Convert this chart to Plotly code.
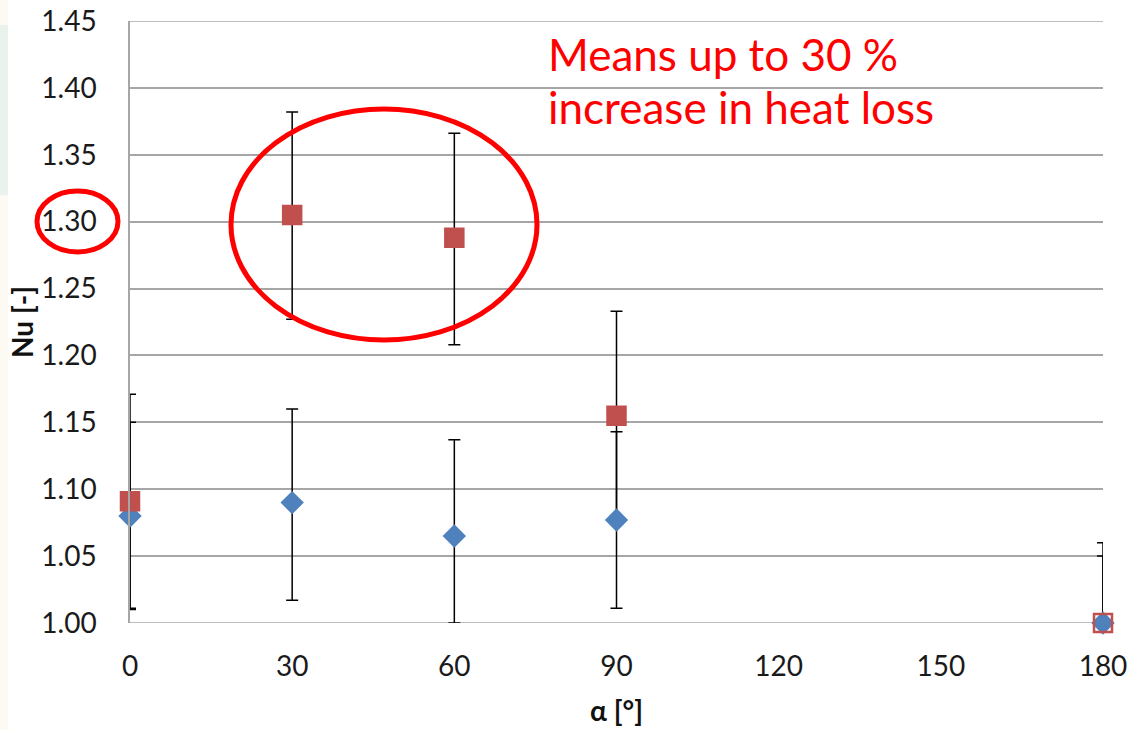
import plotly.graph_objects as go

# ---- data ----
angles = [0, 30, 60, 90, 180]
nu_blue = [1.080, 1.090, 1.065, 1.077, 1.000]
blue_err_plus = [0.070, 0.070, 0.072, 0.066, 0.050]
blue_err_minus = [0.070, 0.073, 0.065, 0.066, 0.000]

nu_red = [1.091, 1.305, 1.288, 1.155, 1.000]
red_err_plus = [0.080, 0.077, 0.078, 0.078, 0.060]
red_err_minus = [0.080, 0.078, 0.080, 0.078, 0.000]

x_ticks = [0, 30, 60, 90, 120, 150, 180]
y_ticks = [1.00, 1.05, 1.10, 1.15, 1.20, 1.25, 1.30, 1.35, 1.40, 1.45]

BLUE = "#4F81BD"
RED = "#C0504D"
FONT = "Lato, 'Open Sans', sans-serif"

# ---- layout geometry (pixels) ----
W, H = 1128, 730
ML, MR, MT, MB = 130, 25, 21, 107
PW, PH = W - ML - MR, H - MT - MB


def px(x):
    """screen pixel x -> paper"""
    return (x - ML) / PW


def py(y):
    """screen pixel y -> paper"""
    return 1 - (y - MT) / PH


ERR = dict(type="data", color="black", thickness=1.5, width=6)

fig = go.Figure()

# red series error bars (beneath the markers)
fig.add_trace(go.Scatter(
    x=angles, y=nu_red, mode="markers", name="red error",
    marker=dict(symbol="square", size=1, opacity=0),
    error_y=dict(array=red_err_plus, arrayminus=red_err_minus, **ERR),
    cliponaxis=False, showlegend=False, hoverinfo="skip",
))

# blue series
fig.add_trace(go.Scatter(
    x=angles, y=nu_blue, mode="markers", name="blue",
    marker=dict(symbol="diamond", size=18, color=BLUE),
    error_y=dict(array=blue_err_plus, arrayminus=blue_err_minus, **ERR),
    cliponaxis=False, showlegend=False,
))

# red series markers
red_fill = [RED, RED, RED, RED, "rgba(0,0,0,0)"]
fig.add_trace(go.Scatter(
    x=angles, y=nu_red, mode="markers", name="red",
    marker=dict(symbol="square", size=18, color=red_fill,
                line=dict(color=RED, width=2.5)),
    cliponaxis=False, showlegend=False,
))

# blue marker at 180 drawn above the hollow red square
fig.add_trace(go.Scatter(
    x=angles[-1:], y=nu_blue[-1:], mode="markers",
    marker=dict(symbol="circle", size=14, color=BLUE),
    cliponaxis=False, showlegend=False, hoverinfo="skip",
))

fig.update_layout(
    width=W, height=H,
    margin=dict(l=ML, r=MR, t=MT, b=MB, autoexpand=False),
    paper_bgcolor="white", plot_bgcolor="white",
    font=dict(family=FONT, color="#1a1a1a", size=28),
    xaxis=dict(
        range=[0, 180], tickvals=x_ticks, ticktext=[str(v) for v in x_ticks],
        showgrid=False, zeroline=False, showline=False, automargin=False,
        ticks="", ticklabelstandoff=24, ticklabeloverflow="allow",
        tickfont=dict(family=FONT, size=28, color="#1a1a1a"),
        title=dict(text="<b>α [°]</b>", font=dict(family=FONT, size=28, color="#111"),
                   standoff=20),
    ),
    yaxis=dict(
        range=[1.00, 1.45], tickvals=y_ticks, tickformat=".2f",
        showgrid=True, gridcolor="#a6a6a6", gridwidth=1.5,
        zeroline=False, showline=True, linecolor="#a6a6a6", linewidth=1.5,
        automargin=False,
        ticks="", ticklabelstandoff=26, ticklabeloverflow="allow",
        tickfont=dict(family=FONT, size=28, color="#1a1a1a"),
        title=dict(text="<b>Nu [-]</b>", font=dict(family=FONT, size=28, color="#111"),
                   standoff=0),
    ),
)

# top and bottom lines at the ends of the value range
fig.add_shape(type="line", xref="paper", yref="y", x0=0, x1=1, y0=1.00, y1=1.00,
              line=dict(color="#a6a6a6", width=1.5), layer="below")
fig.add_shape(type="line", xref="paper", yref="y", x0=0, x1=1, y0=1.45, y1=1.45,
              line=dict(color="#a6a6a6", width=1.5), layer="below")

# faint strip on the far left of the slide
fig.add_shape(type="rect", xref="paper", yref="paper",
              x0=px(0), x1=px(8), y0=py(730), y1=py(0),
              fillcolor="#FCFAF3", line=dict(width=0), layer="below")
fig.add_shape(type="rect", xref="paper", yref="paper",
              x0=px(0), x1=px(8), y0=py(195), y1=py(25),
              fillcolor="#E9F2EC", line=dict(width=0), layer="below")

# red annotation ellipses
fig.add_shape(type="circle", xref="paper", yref="paper",
              x0=px(231), x1=px(537), y0=py(340), y1=py(109),
              line=dict(color="#FF0000", width=5))
fig.add_shape(type="circle", xref="paper", yref="paper",
              x0=px(37), x1=px(118), y0=py(252), y1=py(191),
              line=dict(color="#FF0000", width=5))

# annotation text
fig.add_annotation(text="Means up to 30 %", xref="paper", yref="paper",
                   x=px(546), y=py(54), xanchor="left", yanchor="middle",
                   showarrow=False, font=dict(family=FONT, size=44, color="#FF0000"))
fig.add_annotation(text="increase in heat loss", xref="paper", yref="paper",
                   x=px(546), y=py(107), xanchor="left", yanchor="middle",
                   showarrow=False, font=dict(family=FONT, size=44, color="#FF0000"))

fig.write_html("out.html", config={"displayModeBar": False},
               post_script="document.body.style.margin='0';document.body.style.overflow='hidden';")
